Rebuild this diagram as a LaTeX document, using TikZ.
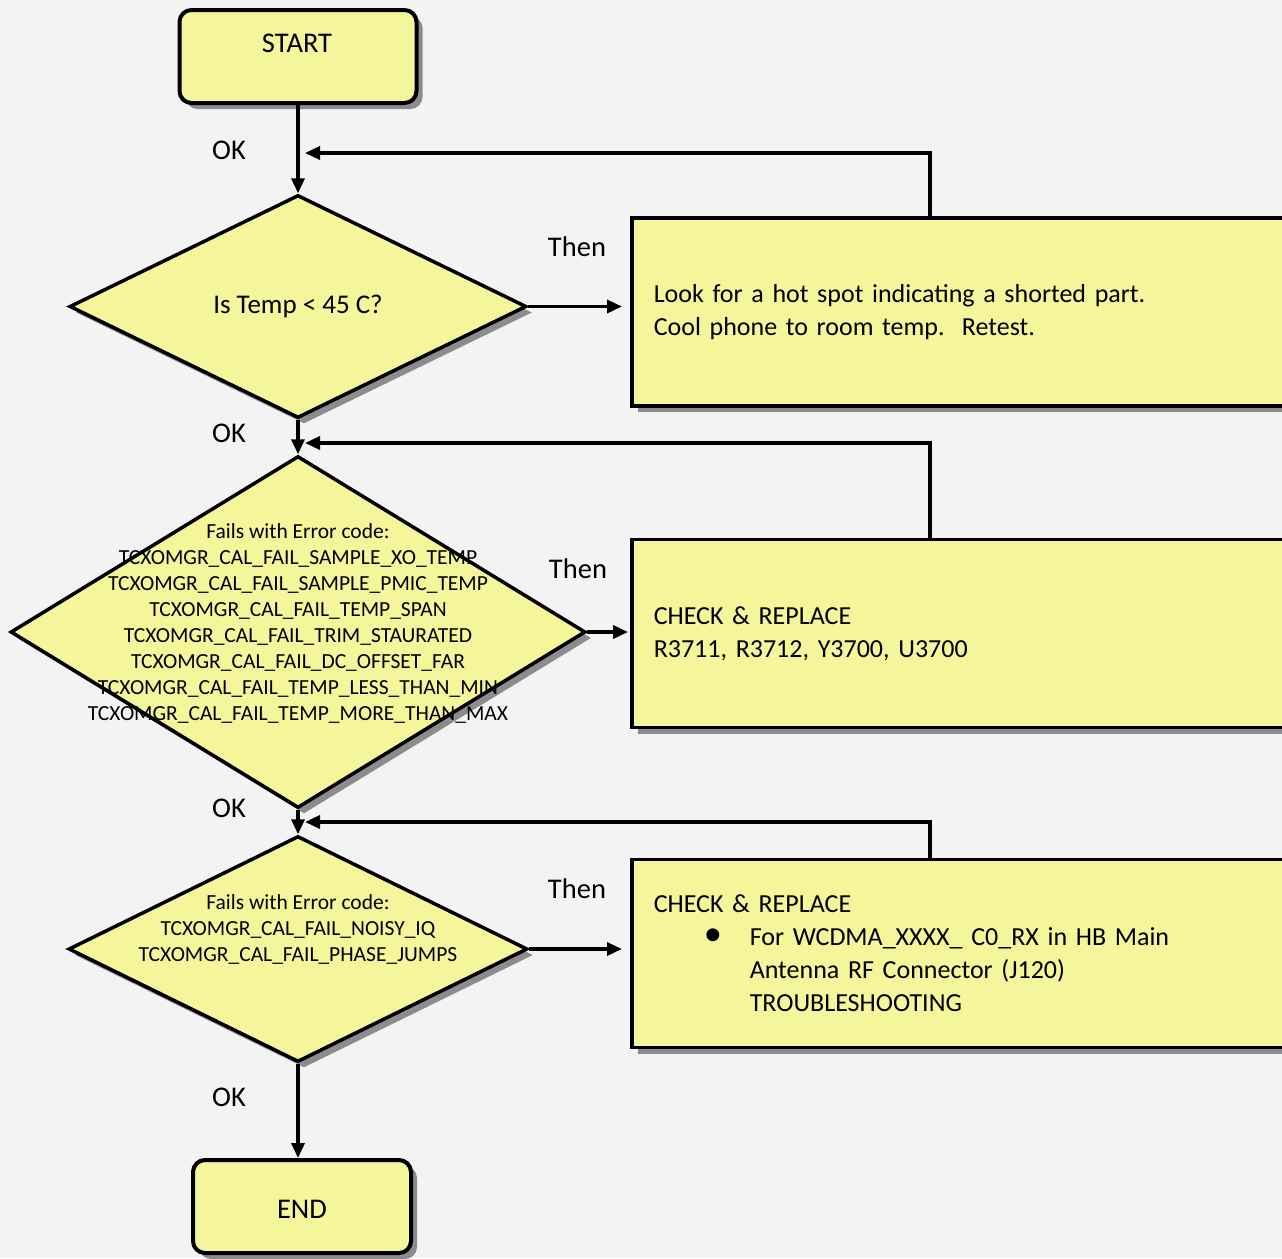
\documentclass[tikz,border=0pt]{standalone}
\usepackage{fontspec}
\setmainfont{Carlito}
\usepackage{tikz}
\usetikzlibrary{positioning}
\usetikzlibrary{shapes.geometric,shadows}
\usetikzlibrary{arrows.meta}
\definecolor{boxfill}{HTML}{F5F59B}
\definecolor{pagebg}{HTML}{F3F3F3}
\tikzset{>={Triangle[length=15pt,width=13pt]}}
\tikzset{
  shadowed/.style={drop shadow={shadow xshift=6pt, shadow yshift=-6pt, fill=black!45, opacity=1}},
  terminal/.style={draw, line width=4pt, fill=boxfill, rounded corners=12pt, shadowed},
  decision/.style={draw, diamond, line width=3.5pt, fill=boxfill, inner sep=0pt, shadowed},
  action/.style={draw, line width=3.5pt, fill=boxfill, text width=640pt, inner xsep=22pt,
    minimum height=188pt, align=left, shadowed, font=\fontsize{26}{33}\selectfont},
  codes/.style={align=center, font=\fontsize{21.5}{26}\selectfont},
  flow/.style={->, line width=3.5pt},
}

\begin{document}
\begin{tikzpicture}[x=1pt, y=-1pt, font=\fontsize{28.5}{33}\selectfont]
    % 1. Page background
    \fill[pagebg] (0,0) rectangle (1282,1258);
    \useasboundingbox (0,0) rectangle (1282,1258);

    % 2. Start and end
    \node[terminal, minimum width=237pt, minimum height=93pt] (start) at (298,56.5) {};
    \node (starttxt) at (297,43) {START};
    \node[terminal, minimum width=218pt, minimum height=93pt] (end) at (302,1206.5) {};
    \node (endtxt) at (302,1209) {END};

    % 3. Decisions (text set on top, it runs over the edges)
    \node[decision, minimum width=457pt, minimum height=223pt] (q1) at (298,306.5) {};
    \node[font=\fontsize{27}{33}\selectfont] (q1txt) at (q1) {Is Temp < 45 C?};
    \node[decision, minimum width=575pt, minimum height=352pt] (q2) at (298,632) {};
    \node[codes] (q2txt) at (298,623) {Fails with Error code:\\
      TCXOMGR\_CAL\_FAIL\_SAMPLE\_XO\_TEMP\\
      TCXOMGR\_CAL\_FAIL\_SAMPLE\_PMIC\_TEMP\\
      TCXOMGR\_CAL\_FAIL\_TEMP\_SPAN\\
      TCXOMGR\_CAL\_FAIL\_TRIM\_STAURATED\\
      TCXOMGR\_CAL\_FAIL\_DC\_OFFSET\_FAR\\
      TCXOMGR\_CAL\_FAIL\_TEMP\_LESS\_THAN\_MIN\\
      TCXOMGR\_CAL\_FAIL\_TEMP\_MORE\_THAN\_MAX};
    \node[decision, minimum width=459pt, minimum height=226pt] (q3) at (298,949) {};
    \node[codes] (q3txt) at (298,929) {Fails with Error code:\\
      TCXOMGR\_CAL\_FAIL\_NOISY\_IQ\\
      TCXOMGR\_CAL\_FAIL\_PHASE\_JUMPS};

    % 4. Actions
    \node[action, anchor=west] (act1) at (630,312) {Look for a hot spot indicating a shorted part.\\
      Cool phone to room temp.\ \ Retest.};
    \node[action, anchor=west] (act2) at (630,633.5) {CHECK \& REPLACE\\
      R3711, R3712, Y3700, U3700};
    \node[action, anchor=west] (act3) at (630,953.5) {CHECK \& REPLACE\\
      \makebox[96pt][l]{\hspace*{50pt}\scalebox{1.4}{\textbullet}}For WCDMA\_XXXX\_ C0\_RX in HB Main\\
      \hspace*{96pt}Antenna RF Connector (J120)\\
      \hspace*{96pt}TROUBLESHOOTING};

    % 5. Main flow down the left
    \draw[flow] (start) -- (q1.north);
    \draw[flow] (q1.south) -- (q2.north);
    \draw[flow] (q2.south) -- (q3.north);
    \draw[flow] (q3.south) -- (q3.south |- end.north);

    % 6. Then branches
    \draw[flow] (q1.east) -- ([xshift=-8pt]q1.east -| act1.west);
    \draw[flow] (q2.east) -- ([xshift=-2pt]q2.east -| act2.west);
    \draw[flow] (q3.east) -- ([xshift=-8pt]q3.east -| act3.west);

    % 7. Loops back to the main line
    \coordinate (t1) at (930,218);
    \coordinate (j1) at (305,153);
    \coordinate (t2) at (930,540);
    \coordinate (j2) at (305,443);
    \coordinate (t3) at (930,860);
    \coordinate (j3) at (305,822);
    \draw[flow] (t1) |- (j1);
    \draw[flow] (t2) |- (j2);
    \draw[flow] (t3) |- (j3);

    % 8. Labels
    \foreach \y/\n in {150/ok1, 433/ok2, 808/ok3, 1097/ok4}
      \node (\n) at (229,\y) {OK};
    \node (then1) at (577,247) {Then};
    \node (then2) at (578,569) {Then};
    \node (then3) at (577,889) {Then};
\end{tikzpicture}
\end{document}
